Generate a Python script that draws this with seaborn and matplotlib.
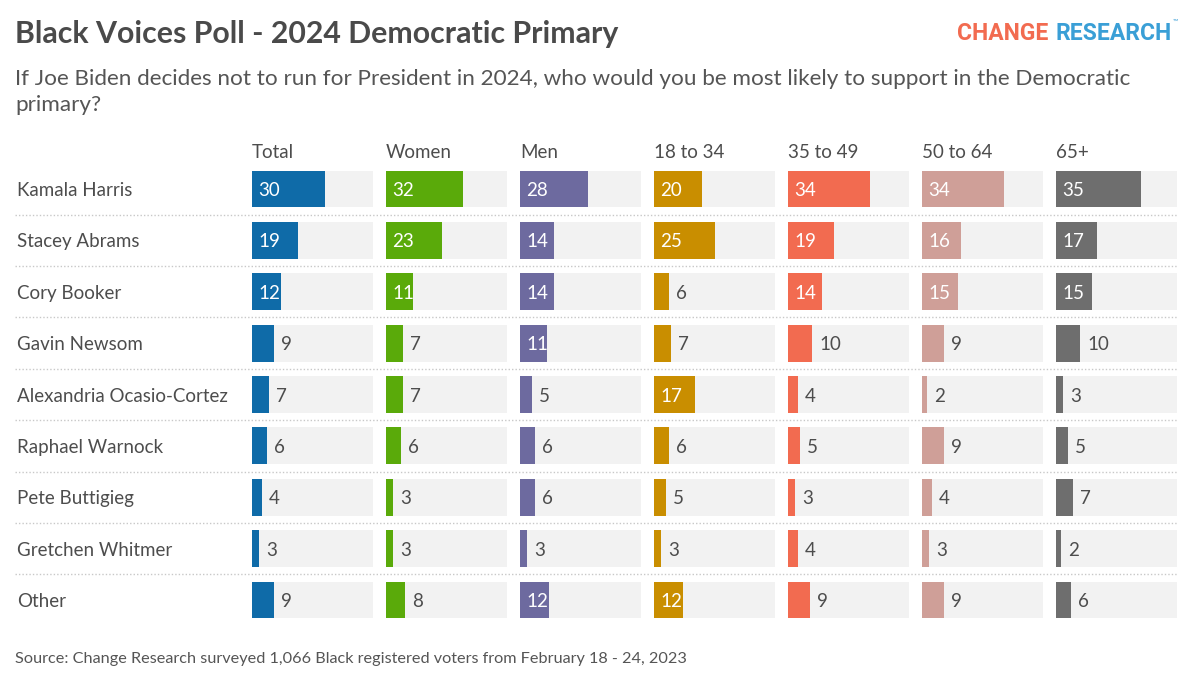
import numpy as np
import matplotlib
matplotlib.use('Agg')
import matplotlib.pyplot as plt
import matplotlib.transforms as mtransforms
import pandas as pd
import seaborn as sns

candidates = ['Kamala Harris', 'Stacey Abrams', 'Cory Booker', 'Gavin Newsom',
              'Alexandria Ocasio-Cortez', 'Raphael Warnock', 'Pete Buttigieg',
              'Gretchen Whitmer', 'Other']
groups = ['Total', 'Women', 'Men', '18 to 34', '35 to 49', '50 to 64', '65+']
total = [30, 19, 12, 9, 7, 6, 4, 3, 9]
women = [32, 23, 11, 7, 7, 6, 3, 3, 8]
men = [28, 14, 14, 11, 5, 6, 6, 3, 12]
age_18_34 = [20, 25, 6, 7, 17, 6, 5, 3, 12]
age_35_49 = [34, 19, 14, 10, 4, 5, 3, 4, 9]
age_50_64 = [34, 16, 15, 9, 2, 9, 4, 3, 9]
age_65_up = [35, 17, 15, 10, 3, 5, 7, 2, 6]
colors = ['#0f6ba8', '#5aaa0a', '#6d6a9f', '#c98e00', '#f26b50', '#cf9f98', '#6e6e6e']

series = [total, women, men, age_18_34, age_35_49, age_50_64, age_65_up]
rows = []
for g, vals in zip(groups, series):
    for c, v in zip(candidates, vals):
        rows.append({'group': g, 'candidate': c, 'value': v, 'full': 50})
df = pd.DataFrame(rows)

sns.set_style('white')
plt.rcParams['font.family'] = ['Lato', 'DejaVu Sans']

W, H = 1200, 684
fig = plt.figure(figsize=(12, 6.84), dpi=100)
fig.patch.set_facecolor('white')

# row band: first center 189px, last 600px
step = (600 - 189) / 8
top_px = 189 - step / 2
bot_px = 600 + step / 2
ax_bottom = 1 - bot_px / H
ax_height = (bot_px - top_px) / H

# dotted separators across full width
ax_sep = fig.add_axes([15 / W, ax_bottom, (1177 - 15) / W, ax_height])
ax_sep.set_xlim(0, 1)
ax_sep.set_ylim(len(candidates) - 0.5, -0.5)
ax_sep.hlines(np.arange(len(candidates) - 1) + 0.5, 0, 1, color='#c8c8c8',
              linestyle=(0, (1, 1.5)), linewidth=1)
ax_sep.axis('off')

text_col = '#4d4d4d'
for i, (g, col) in enumerate(zip(groups, colors)):
    left = (252 + 134 * i) / W
    ax = fig.add_axes([left, ax_bottom, 121 / W, ax_height])
    sub = df[df['group'] == g]
    sns.barplot(data=sub, x='full', y='candidate', orient='h', color='#f2f2f2',
                saturation=1, width=0.72, linewidth=0, ax=ax)
    sns.barplot(data=sub, x='value', y='candidate', orient='h', color=col,
                saturation=1, width=0.72, linewidth=0, ax=ax)
    ax.set_xlim(0, 50)
    ax.set_ylim(len(candidates) - 0.5, -0.5)
    ax.axis('off')
    for j, v in enumerate(sub['value']):
        if v >= 11:
            ax.annotate(str(v), (0, j), xytext=(6, 0), textcoords='offset pixels',
                        ha='left', va='center_baseline', color='white', fontsize=13.5)
        else:
            ax.annotate(str(v), (v, j), xytext=(7, 0), textcoords='offset pixels',
                        ha='left', va='center_baseline', color=text_col, fontsize=13.5)
    fig.text(left, 1 - 151 / H, g, ha='left', va='center_baseline', fontsize=13.5,
             color=text_col)
    if i == 0:
        trans = mtransforms.blended_transform_factory(fig.transFigure, ax.transData)
        for j, c in enumerate(candidates):
            ax.text(17 / W, j, c, transform=trans, ha='left', va='center_baseline',
                    fontsize=13.5, color=text_col)

fig.text(15 / W, 1 - 32 / H, 'Black Voices Poll - 2024 Democratic Primary',
         ha='left', va='center_baseline', fontsize=21.8, fontweight='bold', color='#4a4a4a')
fig.text(15 / W, 1 - 92 / H,
         'If Joe Biden decides not to run for President in 2024, who would you be most likely to support in the Democratic\nprimary?',
         ha='left', va='center', fontsize=16.2, color='#555555', linespacing=1.33)
fig.text(15 / W, 1 - 657 / H,
         'Source: Change Research surveyed 1,066 Black registered voters from February 18 - 24, 2023',
         ha='left', va='center_baseline', fontsize=11.7, color='#555555')

# logo text
t2 = fig.text(1172 / W, 1 - 31 / H, 'RESEARCH', ha='right', va='center_baseline',
              fontsize=16.5, fontweight='bold', color='#3a9fd6', family='Roboto')
fig.canvas.draw()
bb = t2.get_window_extent()
fig.text((bb.x0 - 7) / W, 1 - 31 / H, 'CHANGE', ha='right', va='center_baseline',
         fontsize=16.5, fontweight='bold', color='#f26b50', family='Roboto')
fig.text(1173 / W, 1 - 21 / H, '™', ha='left', va='center', fontsize=5, color='#3a9fd6')

fig.savefig('out.png', dpi=100, facecolor='white')
